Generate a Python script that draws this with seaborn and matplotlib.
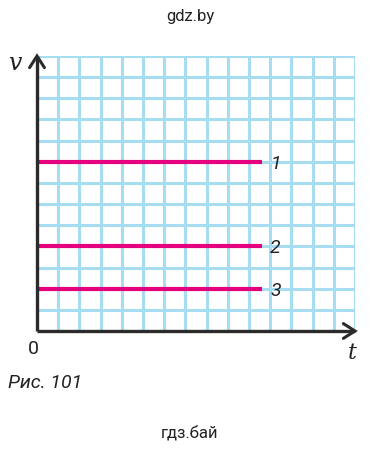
import matplotlib
matplotlib.use("Agg")
import matplotlib.pyplot as plt
import seaborn as sns
import pandas as pd

# data (in grid cells)
labels = ["1", "2", "3"]
speeds = [8, 4, 2]
t_end = 10.6
n_cols = 15
n_rows = 13

rows = []
for lab, v in zip(labels, speeds):
    rows.append({"series": lab, "t": 0.0, "v": v})
    rows.append({"series": lab, "t": t_end, "v": v})
df = pd.DataFrame(rows)

sns.set_style("white")
fig = plt.figure(figsize=(3.8, 4.5), dpi=100)
ax = fig.add_axes([37/380, 1-331/450, (355-37)/380, (331-56)/450])

grid_color = "#a6ddf0"
red = "#e5007e"
axis_color = "#2b2b2b"

ax.set_xlim(0, n_cols)
ax.set_ylim(0, n_rows)
ax.set_xticks(range(0, n_cols + 1))
ax.set_yticks(range(0, n_rows + 1))
ax.grid(True, color=grid_color, linewidth=2.2)
ax.tick_params(length=0, labelbottom=False, labelleft=False)
for s in ax.spines.values():
    s.set_visible(False)

sns.lineplot(data=df, x="t", y="v", units="series", estimator=None,
             color=red, linewidth=3.0, ax=ax, legend=False, solid_capstyle="butt", zorder=3)
for lab, v in zip(labels, speeds):
    ax.text(t_end + 0.4, v - 0.1, lab, fontsize=14, style="italic", color="#222222",
            va="center", ha="left", fontfamily="Roboto")

# axes with arrows
ax.plot([0, 0], [0, n_rows], color=axis_color, lw=2.4, clip_on=False, zorder=4, solid_capstyle="butt")
ax.plot([0, n_cols], [0, 0], color=axis_color, lw=2.4, clip_on=False, zorder=4, solid_capstyle="butt")
ax.plot([-0.35, 0, 0.35], [n_rows - 0.55, n_rows, n_rows - 0.55], color=axis_color, lw=2.2,
        clip_on=False, zorder=5, solid_joinstyle="miter")
ax.plot([n_cols - 0.55, n_cols, n_cols - 0.55], [0.35, 0, -0.35], color=axis_color, lw=2.2,
        clip_on=False, zorder=5, solid_joinstyle="miter")

ax.set_xlabel("")
ax.set_ylabel("")

fig.text(15/380, 1-63/450, "v", fontsize=17, style="italic", fontfamily="DejaVu Serif",
         ha="center", va="center", color="#222222")
fig.text(352/380, 1-353/450, "t", fontsize=16, style="italic", fontfamily="DejaVu Serif",
         ha="center", va="center", color="#222222")
fig.text(33/380, 1-349/450, "0", fontsize=14, fontfamily="Roboto",
         ha="center", va="center", color="#222222")
fig.text(8/380, 1-383/450, "Рис. 101", fontsize=14, style="italic", fontfamily="Roboto",
         ha="left", va="center", color="#222222")
fig.text(190/380, 1-16/450, "gdz.by", fontsize=12, fontfamily="Roboto",
         ha="center", va="center", color="#222222")
fig.text(190/380, 1-433/450, "гдз.бай", fontsize=12, fontfamily="Roboto",
         ha="center", va="center", color="#222222")

fig.savefig("out.png", dpi=100)
